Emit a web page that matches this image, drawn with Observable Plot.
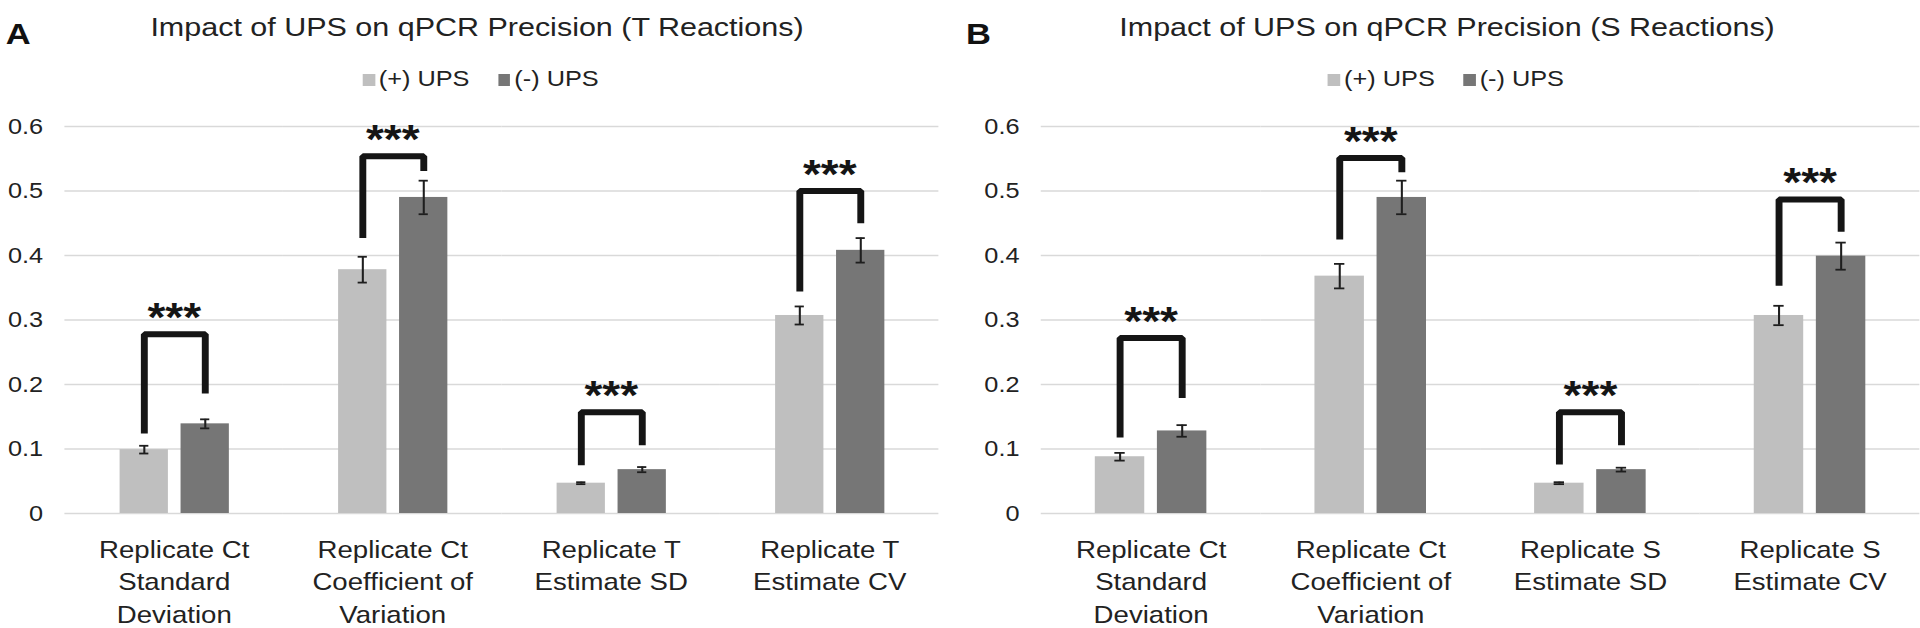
<!DOCTYPE html>
<html>
<head>
<meta charset="utf-8">
<script src="https://cdn.jsdelivr.net/npm/d3@7"></script>
<script src="https://cdn.jsdelivr.net/npm/@observablehq/plot@0.6"></script>
<style>
  html, body { margin: 0; padding: 0; background: #fff; overflow: hidden; }
  body { width: 1920px; height: 628px; position: relative; font-family: "Liberation Sans", Arial, sans-serif; }
  #wrap { position: absolute; left: 0; top: 0; width: 1669.57px; height: 628px; transform: scaleX(1.15); transform-origin: 0 0; }
  .letter { position: absolute; font-size: 30px; font-weight: bold; line-height: 1; color: #111; }
  .title { position: absolute; top: 14px; font-size: 26.5px; line-height: 1; color: #222; white-space: nowrap; transform: translateX(-50%); }
  .legend { position: absolute; top: 68px; display: flex; align-items: flex-start; transform: translateX(-50%); white-space: nowrap; }
  .legend .item { display: flex; align-items: flex-start; margin-right: 25px; }
  .legend .item:last-child { margin-right: 0; }
  .legend .sw { width: 10.5px; height: 12px; margin-top: 6px; margin-right: 3.5px; }
  .legend .lab { font-size: 22px; line-height: 1; color: #222; }
  .chart { position: absolute; top: 100px; }
  g[aria-label="stars"] text { letter-spacing: 2px; }
</style>
</head>
<body>
<div id="wrap"></div>
<script>
// ---- data ----
const series = ["(+) UPS", "(-) UPS"];
const seriesColors = ["#bfbfbf", "#767676"];
const yTicks = [0, 0.1, 0.2, 0.3, 0.4, 0.5, 0.6];
const starLabel = "***";

const titleT = "Impact of UPS on qPCR Precision (T Reactions)";
const categoriesT = ["Replicate Ct\nStandard\nDeviation", "Replicate Ct\nCoefficient of\nVariation", "Replicate T\nEstimate SD", "Replicate T\nEstimate CV"];
const plusT = [0.099, 0.378, 0.047, 0.307];
const minusT = [0.139, 0.490, 0.068, 0.408];
const errPlusT = [0.006, 0.020, 0.0015, 0.014];
const errMinusT = [0.007, 0.026, 0.004, 0.019];
const bracketLeftT = [0.124, 0.427, 0.075, 0.344];
const bracketTopT = [0.278, 0.554, 0.157, 0.500];
const bracketRightT = [0.186, 0.531, 0.106, 0.450];

const titleS = "Impact of UPS on qPCR Precision (S Reactions)";
const categoriesS = ["Replicate Ct\nStandard\nDeviation", "Replicate Ct\nCoefficient of\nVariation", "Replicate S\nEstimate SD", "Replicate S\nEstimate CV"];
const plusS = [0.088, 0.368, 0.047, 0.307];
const minusS = [0.128, 0.490, 0.068, 0.399];
const errPlusS = [0.006, 0.019, 0.0015, 0.015];
const errMinusS = [0.009, 0.026, 0.003, 0.021];
const bracketLeftS = [0.118, 0.425, 0.076, 0.353];
const bracketTopS = [0.272, 0.551, 0.157, 0.487];
const bracketRightS = [0.179, 0.529, 0.106, 0.437];

const fontFamily = '"Liberation Sans", Arial, sans-serif';

function panel(cats, plus, minus, errP, errM, bLeft, bTop, bRight, width, marginLeft, marginRight) {
  const bars = cats.flatMap((c, i) => [
    {cat: c, series: series[0], value: plus[i], err: errP[i]},
    {cat: c, series: series[1], value: minus[i], err: errM[i]}
  ]);
  const brackets = cats.map((c, i) => ({cat: c, left: bLeft[i], top: bTop[i], right: bRight[i]}));
  const pts = brackets.flatMap(b => [
    {cat: b.cat, series: series[0], v: b.left},
    {cat: b.cat, series: series[0], v: b.top},
    {cat: b.cat, series: series[1], v: b.top},
    {cat: b.cat, series: series[1], v: b.right}
  ]);
  const ink = "#1e1e1e";
  return Plot.plot({
    width, height: 528,
    marginTop: 26, marginBottom: 115, marginLeft, marginRight,
    style: {fontFamily, fontSize: "22px", color: "#222", background: "transparent", overflow: "visible"},
    fx: {domain: cats, axis: null, padding: 0, label: null},
    x: {domain: series, axis: null, paddingInner: 0.21, paddingOuter: 0.87},
    y: {domain: [0, 0.6], axis: null},
    color: {domain: series, range: seriesColors},
    marks: [
      Plot.ruleY(yTicks, {stroke: "#d9d9d9", strokeWidth: 1.6}),
      Plot.axisY(yTicks, {tickSize: 0, tickPadding: 19, tickFormat: d => String(d), fontSize: 22, label: null, fill: "#222"}),
      Plot.barY(bars, {fx: "cat", x: "series", y: "value", fill: "series"}),
      Plot.ruleX(bars, {fx: "cat", x: "series", y1: d => d.value - d.err, y2: d => d.value + d.err, stroke: ink, strokeWidth: 1.8}),
      Plot.tickY(bars, {fx: "cat", x: "series", y: d => d.value + d.err, insetLeft: 17, insetRight: 17, stroke: ink, strokeWidth: 1.8}),
      Plot.tickY(bars, {fx: "cat", x: "series", y: d => d.value - d.err, insetLeft: 17, insetRight: 17, stroke: ink, strokeWidth: 1.8}),
      Plot.line(pts, {fx: "cat", x: "series", y: "v", z: "cat", stroke: "#151515", strokeWidth: 6, strokeLinejoin: "miter", strokeLinecap: "butt"}),
      Plot.text(brackets, {fx: "cat", y: "top", text: () => starLabel, fontSize: 40, fontWeight: "bold", lineAnchor: "bottom", dy: -3, fill: "#151515", ariaLabel: "stars"}),
      Plot.text(cats, {fx: d => d, text: d => d, frameAnchor: "bottom", lineAnchor: "top", dy: 21, fontSize: 24, lineHeight: 1.354, fill: "#222"})
    ]
  });
}

const wrap = document.getElementById("wrap");

function addDiv(cls, text, left, top) {
  const d = document.createElement("div");
  d.className = cls;
  if (text != null) d.textContent = text;
  d.style.left = left + "px";
  if (top != null) d.style.top = top + "px";
  wrap.appendChild(d);
  return d;
}

function legend(center) {
  const lg = addDiv("legend", null, center);
  series.forEach((s, i) => {
    const it = document.createElement("div"); it.className = "item";
    const sw = document.createElement("div"); sw.className = "sw"; sw.style.background = seriesColors[i];
    const lab = document.createElement("div"); lab.className = "lab"; lab.textContent = s;
    it.appendChild(sw); it.appendChild(lab); lg.appendChild(it);
  });
}

// Panel A
addDiv("letter", "A", 5, 19);
addDiv("title", titleT, 414.8);
legend(418);
const cA = addDiv("chart", null, 0);
cA.appendChild(panel(categoriesT, plusT, minusT, errPlusT, errMinusT, bracketLeftT, bracketTopT, bracketRightT, 834, 55, 17));

// Panel B
addDiv("letter", "B", 840, 19);
addDiv("title", titleS, 1258.3);
legend(1257.4);
const cB = addDiv("chart", null, 834);
cB.appendChild(panel(categoriesS, plusS, minusS, errPlusS, errMinusS, bracketLeftS, bracketTopS, bracketRightS, 835, 70, 0));
</script>
</body>
</html>
